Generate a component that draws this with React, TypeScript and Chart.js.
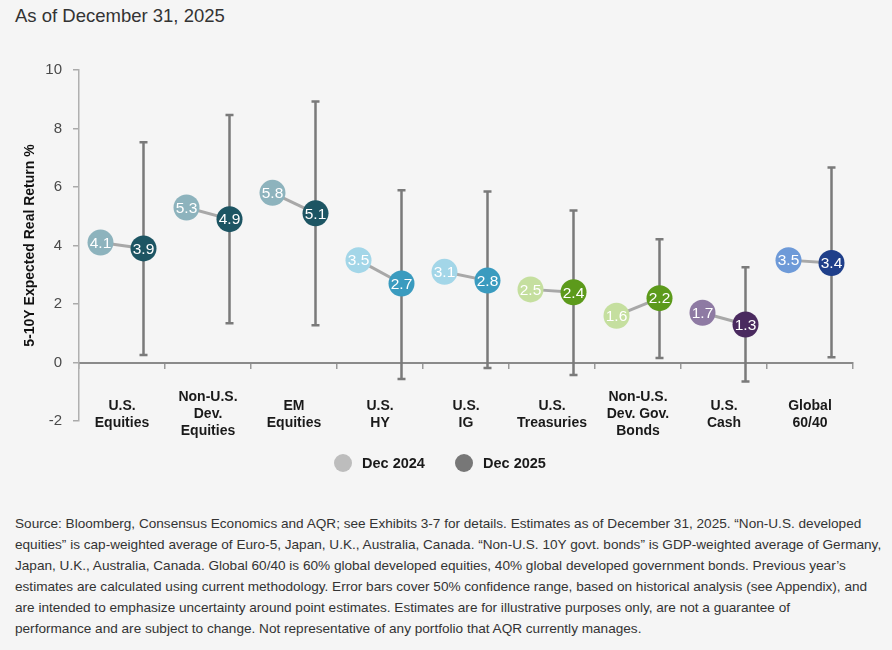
import React, { useEffect, useRef } from 'react';
import { Chart, registerables } from 'chart.js';

Chart.register(...registerables);

const categories: string[][] = [
  ['U.S.', 'Equities'],
  ['Non-U.S.', 'Dev.', 'Equities'],
  ['EM', 'Equities'],
  ['U.S.', 'HY'],
  ['U.S.', 'IG'],
  ['U.S.', 'Treasuries'],
  ['Non-U.S.', 'Dev. Gov.', 'Bonds'],
  ['U.S.', 'Cash'],
  ['Global', '60/40'],
];
const dec2024 = [4.1, 5.3, 5.8, 3.5, 3.1, 2.5, 1.6, 1.7, 3.5];
const dec2025 = [3.9, 4.9, 5.1, 2.7, 2.8, 2.4, 2.2, 1.3, 3.4];
const errLow = [0.26, 1.34, 1.27, -0.56, -0.19, -0.43, 0.15, -0.65, 0.18];
const errHigh = [7.53, 8.46, 8.92, 5.89, 5.85, 5.2, 4.21, 3.26, 6.67];
const colors2024 = ['#8db3bd', '#8db3bd', '#8db3bd', '#a3d6e8', '#a3d6e8', '#c5df9f', '#c5df9f', '#8e7aa3', '#6e9ad8'];
const colors2025 = ['#1d5563', '#1d5563', '#1d5563', '#3a9bbf', '#3a9bbf', '#5c9a1b', '#5c9a1b', '#4a2a5f', '#1f3f8a'];
const yMin = -2;
const yMax = 10;
const yStep = 2;
const legendLabels = ['Dec 2024', 'Dec 2025'];
const legendColors = ['#bdbdbd', '#777777'];
const titleText = 'As of December 31, 2025';
const yTitle = '5-10Y Expected Real Return %';
const footnoteLines = [
  'Source: Bloomberg, Consensus Economics and AQR; see Exhibits 3-7 for details. Estimates as of December 31, 2025. \u201cNon-U.S. developed',
  'equities\u201d is cap-weighted average of Euro-5, Japan, U.K., Australia, Canada. \u201cNon-U.S. 10Y govt. bonds\u201d is GDP-weighted average of Germany,',
  'Japan, U.K., Australia, Canada. Global 60/40 is 60% global developed equities, 40% global developed government bonds. Previous year\u2019s',
  'estimates are calculated using current methodology. Error bars cover 50% confidence range, based on historical analysis (see Appendix), and',
  'are intended to emphasize uncertainty around point estimates. Estimates are for illustrative purposes only, are not a guarantee of',
  'performance and are subject to change. Not representative of any portfolio that AQR currently manages.',
];

const FONT = '"Liberation Sans", Arial, sans-serif';

const errorBarPlugin = {
  id: 'errorBars',
  beforeDatasetsDraw(chart: any) {
    const { ctx, scales } = chart;
    const xs = scales.x;
    const ys = scales.y;
    ctx.save();
    ctx.strokeStyle = '#7a7a7a';
    ctx.lineWidth = 2.5;
    for (let i = 0; i < dec2025.length; i++) {
      const x = xs.getPixelForValue(i + 0.75);
      const yl = ys.getPixelForValue(errLow[i]);
      const yh = ys.getPixelForValue(errHigh[i]);
      ctx.beginPath();
      ctx.moveTo(x, yl);
      ctx.lineTo(x, yh);
      ctx.moveTo(x - 4, yl);
      ctx.lineTo(x + 4, yl);
      ctx.moveTo(x - 4, yh);
      ctx.lineTo(x + 4, yh);
      ctx.stroke();
    }
    ctx.restore();
  },
};

const pointLabelPlugin = {
  id: 'pointLabels',
  afterDatasetsDraw(chart: any) {
    const { ctx } = chart;
    ctx.save();
    ctx.fillStyle = '#ffffff';
    ctx.font = `15.5px ${FONT}`;
    ctx.textAlign = 'center';
    ctx.textBaseline = 'middle';
    chart.data.datasets.forEach((ds: any, di: number) => {
      const meta = chart.getDatasetMeta(di);
      meta.data.forEach((el: any, pi: number) => {
        const v = ds.data[pi].y;
        ctx.fillText(v.toFixed(1), el.x, el.y + 1);
      });
    });
    ctx.restore();
  },
};

const categoryLabelPlugin = {
  id: 'categoryLabels',
  afterDraw(chart: any) {
    const { ctx, scales } = chart;
    const xs = scales.x;
    const zeroY = scales.y.getPixelForValue(0);
    ctx.save();
    ctx.fillStyle = '#1a1a1a';
    ctx.font = `bold 14px ${FONT}`;
    ctx.textAlign = 'center';
    ctx.textBaseline = 'middle';
    const lh = 17;
    const cy = zeroY + 52;
    categories.forEach((lines, i) => {
      const x = xs.getPixelForValue(i + 0.5);
      const start = cy - ((lines.length - 1) * lh) / 2;
      lines.forEach((t, k) => ctx.fillText(t, x, start + k * lh));
    });
    ctx.restore();
  },
};

function ChartView() {
  const ref = useRef<HTMLCanvasElement>(null);
  useEffect(() => {
    if (!ref.current) return;
    Chart.defaults.font.family = FONT;
    const datasets = categories.map((_, i) => ({
      label: `cat${i}`,
      data: [
        { x: i + 0.25, y: dec2024[i] },
        { x: i + 0.75, y: dec2025[i] },
      ],
      borderColor: '#a8a8a8',
      borderWidth: 3,
      pointRadius: 13,
      pointHoverRadius: 13,
      pointBorderWidth: 0,
      pointBackgroundColor: [colors2024[i], colors2025[i]],
      pointHoverBackgroundColor: [colors2024[i], colors2025[i]],
    }));
    const chart = new Chart(ref.current, {
      type: 'line',
      data: { datasets },
      options: {
        animation: false,
        responsive: true,
        maintainAspectRatio: false,
        events: [],
        layout: { padding: { left: 0, top: 70, right: 39, bottom: 69 } },
        plugins: { legend: { display: false }, tooltip: { enabled: false } },
        scales: {
          x: {
            type: 'linear',
            min: 0,
            max: categories.length,
            position: { y: 0 } as any,
            ticks: { display: false, stepSize: 1 },
            grid: {
              drawOnChartArea: false,
              drawTicks: true,
              tickLength: 5,
              color: '#999999',
              lineWidth: 1.5,
            },
            border: { display: true, color: '#8a8a8a', width: 2 },
            afterFit: (s: any) => {
              s.height = 0;
            },
          },
          y: {
            type: 'linear',
            min: yMin,
            max: yMax,
            ticks: {
              stepSize: yStep,
              color: '#4a4a4a',
              font: { size: 15, family: FONT },
              padding: 11,
            },
            grid: {
              drawOnChartArea: false,
              drawTicks: true,
              tickLength: 6,
              color: '#aaaaaa',
              lineWidth: 1.5,
            },
            border: { display: true, color: '#b0b0b0', width: 1.5 },
            title: {
              display: true,
              text: yTitle,
              color: '#111111',
              font: { size: 14, weight: 'bold', family: FONT },
              padding: { top: 22, bottom: 0 },
            },
            afterFit: (s: any) => {
              s.width = 79;
            },
          },
        },
      },
      plugins: [errorBarPlugin, pointLabelPlugin, categoryLabelPlugin],
    });
    return () => chart.destroy();
  }, []);
  return (
    <div style={{ position: 'absolute', left: 0, top: 0, width: 892, height: 490 }}>
      <canvas ref={ref} />
    </div>
  );
}

export default function App() {
  return (
    <div
      style={{
        position: 'absolute',
        left: 0,
        top: 0,
        width: 892,
        height: 650,
        background: '#f5f5f5',
        fontFamily: FONT,
        overflow: 'hidden',
      }}
    >
      <div
        style={{
          position: 'absolute',
          left: 15,
          top: 4,
          fontSize: 18.5,
          lineHeight: '24px',
          color: '#333',
        }}
      >
        {titleText}
      </div>
      <ChartView />
      {legendLabels.map((l, i) => (
        <div
          key={l}
          style={{
            position: 'absolute',
            left: i === 0 ? 334 : 455,
            top: 453,
            height: 20,
            display: 'flex',
            alignItems: 'center',
            fontSize: 14.5,
            fontWeight: 'bold',
            color: '#1a1a1a',
            whiteSpace: 'nowrap',
          }}
        >
          <span
            style={{
              display: 'inline-block',
              width: 18,
              height: 18,
              borderRadius: 9,
              background: legendColors[i],
              marginRight: 10,
            }}
          />
          {l}
        </div>
      ))}
      <div style={{ position: 'absolute', left: 15, top: 513, color: '#333', fontSize: 13.6, lineHeight: '21px' }}>
        {footnoteLines.map((t, i) => (
          <div key={i} style={{ whiteSpace: 'nowrap' }}>
            {t}
          </div>
        ))}
      </div>
    </div>
  );
}
